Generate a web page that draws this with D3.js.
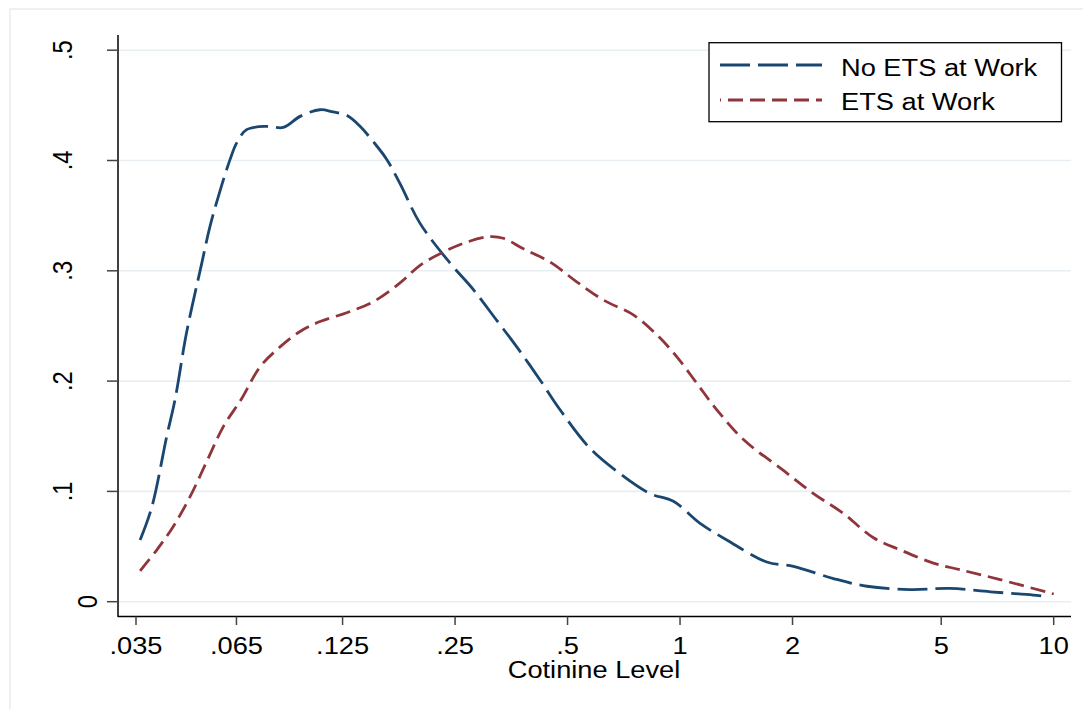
<!DOCTYPE html>
<html>
<head>
<meta charset="utf-8">
<script src="https://cdn.jsdelivr.net/npm/d3@7"></script>
<style>
  html, body { margin: 0; padding: 0; background: #ffffff; }
  svg { display: block; }
  text { font-family: "Liberation Sans", Arial, sans-serif; fill: #000; }
</style>
</head>
<body>
<svg id="chart" width="1083" height="709"></svg>
<script>
// Kernel density of cotinine level, by workplace ETS exposure
const seriesNames = ["No ETS at Work", "ETS at Work"];

const noEtsX = [0.0359, 0.0386, 0.0423, 0.0445, 0.0478, 0.0525, 0.0552, 0.0588, 0.0625, 0.0651,
  0.0692, 0.0783, 0.0868, 0.0962, 0.1088, 0.1179, 0.1282, 0.1392, 0.1511, 0.1641,
  0.1781, 0.2015, 0.2424, 0.2798, 0.3233, 0.3657, 0.4221, 0.4774, 0.5743, 0.6912,
  0.8316, 0.960, 1.1316, 1.334, 1.7066, 2.011, 2.574, 3.162, 4.127, 5.28,
  6.76, 8.81, 9.66];
const noEtsY = [0.056, 0.086, 0.150, 0.183, 0.244, 0.307, 0.340, 0.373, 0.401, 0.416,
  0.428, 0.431, 0.430, 0.440, 0.446, 0.444, 0.441, 0.431, 0.417, 0.401,
  0.379, 0.343, 0.307, 0.283, 0.255, 0.231, 0.201, 0.174, 0.139, 0.116,
  0.098, 0.091, 0.071, 0.056, 0.036, 0.032, 0.021, 0.014, 0.011, 0.012,
  0.009, 0.006, 0.0045];

const etsX = [0.0359, 0.0398, 0.0440, 0.0488, 0.0541, 0.0600, 0.0671, 0.0752, 0.0850, 0.0962,
  0.1088, 0.1282, 0.1511, 0.1781, 0.2015, 0.2326, 0.2687, 0.3103, 0.3366, 0.3808,
  0.449, 0.529, 0.6237, 0.750, 0.8666, 0.9807, 1.109, 1.2544, 1.478, 1.891,
  2.276, 2.737, 3.293, 3.88, 4.764, 5.62, 7.19, 10.0];
const etsY = [0.028, 0.047, 0.068, 0.095, 0.127, 0.159, 0.184, 0.213, 0.231, 0.245,
  0.254, 0.262, 0.272, 0.289, 0.305, 0.317, 0.326, 0.331, 0.3295, 0.320,
  0.308, 0.290, 0.2735, 0.260, 0.242, 0.222, 0.198, 0.174, 0.147, 0.119,
  0.098, 0.080, 0.058, 0.047, 0.035, 0.029, 0.020, 0.007];

const xTickValues = [0.035, 0.065, 0.125, 0.25, 0.5, 1, 2, 5, 10];
const xTickLabels = [".035", ".065", ".125", ".25", ".5", "1", "2", "5", "10"];
const yTickValues = [0, 0.1, 0.2, 0.3, 0.4, 0.5];
const yTickLabels = ["0", ".1", ".2", ".3", ".4", ".5"];
const xTitle = "Cotinine Level";

const colors = ["#1a476f", "#90353b"];
const dashes = ["30,8", "15,7"];
const stretch = 1.15;   // wide glyphs of the Stata-style export
const fontSize = 23.7;

const svg = d3.select("#chart");

// outer graph frame
svg.append("rect")
  .attr("x", 10).attr("y", 9).attr("width", 1100).attr("height", 720)
  .attr("fill", "#ffffff").attr("stroke", "#e9edef").attr("stroke-width", 1.5);

const plotLeft = 118, plotRight = 1071, plotTop = 35, plotBottom = 616.5;

const x = d3.scaleLog().domain([0.035, 10]).range([136, 1053.7]);
const y = d3.scaleLinear().domain([0, 0.5]).range([601.7, 50.2]);

// horizontal gridlines
svg.append("g").selectAll("line").data(yTickValues).join("line")
  .attr("x1", plotLeft).attr("x2", plotRight)
  .attr("y1", d => y(d)).attr("y2", d => y(d))
  .attr("stroke", "#e8eff2").attr("stroke-width", 1.6);

// density curves
const line = d3.line()
  .x(d => x(d[0])).y(d => y(d[1]))
  .curve(d3.curveCatmullRom.alpha(0.5));

const series = [
  d3.zip(noEtsX, noEtsY),
  d3.zip(etsX, etsY)
];

svg.append("g").selectAll("path").data(series).join("path")
  .attr("d", line)
  .attr("fill", "none")
  .attr("stroke", (d, i) => colors[i])
  .attr("stroke-width", 2.8)
  .attr("stroke-dasharray", (d, i) => dashes[i]);

// axes lines
svg.append("line")
  .attr("x1", plotLeft).attr("x2", plotLeft)
  .attr("y1", plotTop).attr("y2", plotBottom + 0.5)
  .attr("stroke", "#000").attr("stroke-width", 1.5);
svg.append("line")
  .attr("x1", plotLeft).attr("x2", plotRight)
  .attr("y1", plotBottom).attr("y2", plotBottom)
  .attr("stroke", "#000").attr("stroke-width", 1.5);

// y ticks and vertical labels
svg.append("g").selectAll("line").data(yTickValues).join("line")
  .attr("x1", 107).attr("x2", plotLeft)
  .attr("y1", d => y(d)).attr("y2", d => y(d))
  .attr("stroke", "#444").attr("stroke-width", 1.5);

const maxLen = d3.max(yTickLabels, s => s.length);
svg.append("g").selectAll("text").data(yTickValues).join("text")
  .attr("transform", (d, i) => {
    const bx = 72 + (maxLen - yTickLabels[i].length) * 25;
    return `translate(${bx},${y(d)}) scale(${stretch},1) rotate(-90)`;
  })
  .attr("text-anchor", "middle")
  .attr("font-size", fontSize)
  .text((d, i) => yTickLabels[i]);

// x ticks and labels
svg.append("g").selectAll("line").data(xTickValues).join("line")
  .attr("x1", d => x(d)).attr("x2", d => x(d))
  .attr("y1", plotBottom).attr("y2", 625)
  .attr("stroke", "#444").attr("stroke-width", 1.5);

svg.append("g").selectAll("text").data(xTickValues).join("text")
  .attr("transform", d => `translate(${x(d)},654) scale(${stretch},1)`)
  .attr("text-anchor", "middle")
  .attr("font-size", fontSize)
  .text((d, i) => xTickLabels[i]);

svg.append("text")
  .attr("transform", `translate(594,678) scale(${stretch},1)`)
  .attr("text-anchor", "middle")
  .attr("font-size", fontSize)
  .text(xTitle);

// legend
const legend = svg.append("g");
legend.append("rect")
  .attr("x", 709).attr("y", 42.7).attr("width", 352.5).attr("height", 79)
  .attr("fill", "#ffffff").attr("stroke", "#000").attr("stroke-width", 1.3);

const rowLineY = [65, 100];
const rowTextY = [76, 110];
seriesNames.forEach((name, i) => {
  legend.append("line")
    .attr("x1", 720).attr("x2", 822)
    .attr("y1", rowLineY[i]).attr("y2", rowLineY[i])
    .attr("stroke", colors[i]).attr("stroke-width", 2.8)
    .attr("stroke-dasharray", dashes[i])
    .attr("stroke-dashoffset", i === 1 ? 14 : 0);
  legend.append("text")
    .attr("transform", `translate(841,${rowTextY[i]}) scale(${stretch},1)`)
    .attr("font-size", fontSize)
    .text(name);
});
</script>
</body>
</html>
